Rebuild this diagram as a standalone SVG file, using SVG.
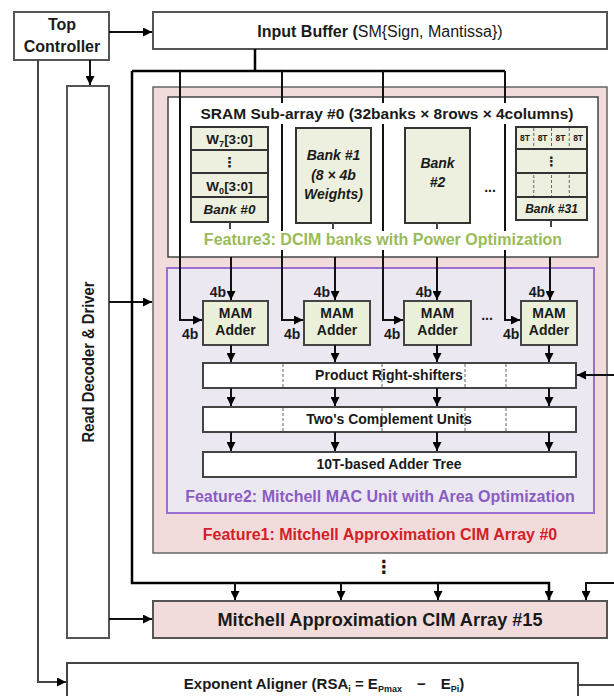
<svg xmlns="http://www.w3.org/2000/svg" width="614" height="696" viewBox="0 0 614 696">
<defs>
<marker id="ah" viewBox="0 0 10 10" refX="10" refY="5" markerWidth="9" markerHeight="9" markerUnits="userSpaceOnUse" orient="auto"><path d="M0,0 L10,5 L0,10 z" fill="#000"/></marker>
<style>
.t{font-family:"Liberation Sans","DejaVu Sans",sans-serif;font-weight:bold;fill:#1a1a1a;text-anchor:middle}
.n{font-weight:normal}
.it{font-style:italic}
.box{fill:#fff;stroke:#555;stroke-width:2}
.bank{fill:#edf0de;stroke:#333;stroke-width:2}
.mam{fill:#eaf0da;stroke:#444;stroke-width:2}
.ln{stroke:#111;stroke-width:2;fill:none}
.bus{stroke:#000;stroke-width:2.5;fill:none}
.dash{stroke:#666;stroke-width:1;stroke-dasharray:3,2}
</style>
</defs>
<rect width="614" height="696" fill="#fff"/>

<g id="top-controller">
<rect class="box" x="14" y="12" width="95" height="48"/>
<text class="t" x="62" y="30" font-size="16">Top</text>
<text class="t" x="62" y="52" font-size="16">Controller</text>
</g>

<g id="input-buffer">
<rect class="box" x="153" y="12" width="454" height="37"/>
<text class="t" x="380" y="37" font-size="16">Input Buffer (<tspan class="n">SM{Sign, Mantissa})</tspan></text>
</g>

<g id="read-decoder">
<rect class="box" x="67" y="86" width="42" height="552"/>
<text class="t" transform="translate(94,362) rotate(-90)" font-size="17" textLength="161" lengthAdjust="spacingAndGlyphs">Read Decoder &amp; Driver</text>
</g>

<g id="cim-array-0">
<rect x="153" y="87" width="454" height="466" fill="#f2dcdb" stroke="#666" stroke-width="1.5"/>
<text class="t" x="380" y="540" font-size="16" style="fill:#d32027">Feature1: Mitchell Approximation CIM Array #0</text>
</g>

<g id="sram-subarray">
<rect x="168" y="97" width="430" height="160" fill="#fff" stroke="#444" stroke-width="1.5"/>
</g>

<g id="mac-unit">
<rect x="167" y="268" width="427" height="245" fill="#ece8f2" stroke="#9b6fd0" stroke-width="2"/>
<text class="t" x="380" y="502" font-size="16" style="fill:#8a5cc2">Feature2: Mitchell MAC Unit with Area Optimization</text>
</g>

<g id="bank-0">
<rect class="bank" x="191" y="127" width="77" height="95"/>
<line x1="191" y1="150" x2="268" y2="150" stroke="#333" stroke-width="2"/>
<line x1="191" y1="173" x2="268" y2="173" stroke="#333" stroke-width="2"/>
<line x1="191" y1="197" x2="268" y2="197" stroke="#333" stroke-width="2"/>
<text class="t" x="229.5" y="144" font-size="13.5">W<tspan font-size="9" dy="3">7</tspan><tspan dy="-3">[3:0]</tspan></text>
<text class="t" x="229.5" y="167" font-size="14">⋮</text>
<text class="t" x="229.5" y="191" font-size="13.5">W<tspan font-size="9" dy="3">0</tspan><tspan dy="-3">[3:0]</tspan></text>
<text class="t it" x="229.5" y="214" font-size="13.5">Bank #0</text>
</g>

<g id="bank-1">
<rect class="bank" x="296" y="128" width="75" height="95"/>
<text class="t it" x="333.5" y="160" font-size="14">Bank #1</text>
<text class="t it" x="333.5" y="180" font-size="14">(8 × 4b</text>
<text class="t it" x="333.5" y="199" font-size="14">Weights)</text>
</g>

<g id="bank-2">
<rect class="bank" x="405" y="128" width="65" height="95"/>
<text class="t it" x="437.5" y="168" font-size="14">Bank</text>
<text class="t it" x="437.5" y="187" font-size="14">#2</text>
</g>

<text class="t" x="490" y="192" font-size="14">...</text>

<g id="bank-31">
<rect class="bank" x="516" y="127" width="71" height="93"/>
<line x1="516" y1="149" x2="587" y2="149" stroke="#333" stroke-width="2"/>
<line x1="516" y1="173" x2="587" y2="173" stroke="#333" stroke-width="2"/>
<line x1="516" y1="197" x2="587" y2="197" stroke="#333" stroke-width="2"/>
<line class="dash" x1="533.75" y1="128" x2="533.75" y2="148"/>
<line class="dash" x1="551.5" y1="128" x2="551.5" y2="148"/>
<line class="dash" x1="569.25" y1="128" x2="569.25" y2="148"/>
<line class="dash" x1="533.75" y1="175" x2="533.75" y2="196"/>
<line class="dash" x1="551.5" y1="175" x2="551.5" y2="196"/>
<line class="dash" x1="569.25" y1="175" x2="569.25" y2="196"/>
<text class="t" x="524.9" y="141" font-size="8.5">8T</text>
<text class="t" x="542.6" y="141" font-size="8.5">8T</text>
<text class="t" x="560.4" y="141" font-size="8.5">8T</text>
<text class="t" x="578.1" y="141" font-size="8.5">8T</text>
<text class="t" x="551.5" y="166" font-size="13">⋮</text>
<text class="t it" x="551.5" y="213" font-size="12">Bank #31</text>
</g>

<g id="mam-1">
<rect class="mam" x="203" y="301" width="65" height="44"/>
<text class="t" x="235.5" y="318" font-size="14">MAM</text>
<text class="t" x="235.5" y="335" font-size="14">Adder</text>
</g>
<g id="mam-2">
<rect class="mam" x="304" y="301" width="66" height="44"/>
<text class="t" x="337" y="318" font-size="14">MAM</text>
<text class="t" x="337" y="335" font-size="14">Adder</text>
</g>
<g id="mam-3">
<rect class="mam" x="404" y="301" width="67" height="44"/>
<text class="t" x="437.5" y="318" font-size="14">MAM</text>
<text class="t" x="437.5" y="335" font-size="14">Adder</text>
</g>
<g id="mam-4">
<rect class="mam" x="521" y="301" width="56" height="44"/>
<text class="t" x="549" y="318" font-size="14">MAM</text>
<text class="t" x="549" y="335" font-size="14">Adder</text>
</g>
<text class="t" x="487" y="320" font-size="14">...</text>

<g id="right-shifters">
<rect class="box" x="203" y="363" width="373" height="25" style="stroke:#444"/>
<line class="dash" x1="283" y1="364" x2="283" y2="387"/>
<line class="dash" x1="382" y1="364" x2="382" y2="387"/>
<line class="dash" x1="465" y1="364" x2="465" y2="387"/>
<line class="dash" x1="506" y1="364" x2="506" y2="387"/>
<text class="t" x="389" y="380" font-size="14">Product Right-shifters</text>
</g>

<g id="twos-complement">
<rect class="box" x="203" y="407" width="373" height="25" style="stroke:#444"/>
<line class="dash" x1="283" y1="408" x2="283" y2="431"/>
<line class="dash" x1="382" y1="408" x2="382" y2="431"/>
<line class="dash" x1="465" y1="408" x2="465" y2="431"/>
<line class="dash" x1="506" y1="408" x2="506" y2="431"/>
<text class="t" x="389" y="424" font-size="14">Two's Complement Units</text>
</g>

<g id="adder-tree">
<rect class="box" x="203" y="452" width="373" height="25" style="stroke:#444"/>
<text class="t" x="389" y="469" font-size="14">10T-based Adder Tree</text>
</g>

<g id="cim-array-15">
<rect x="153" y="601" width="454" height="37" fill="#f2dcdb" stroke="#555" stroke-width="2"/>
<text class="t" x="380" y="626" font-size="19" textLength="325" lengthAdjust="spacingAndGlyphs">Mitchell Approximation CIM Array #15</text>
</g>

<g id="exponent-aligner">
<rect class="box" x="67" y="663" width="511" height="40" style="stroke:#444"/>
<text class="t" x="324" y="689" font-size="15">Exponent Aligner (RSA<tspan font-size="9" dy="3">i</tspan><tspan dy="-3"> = E</tspan><tspan font-size="9" dy="3">Pmax</tspan><tspan dy="-3">&#8194;&#8194;−&#8194;&#8194;E</tspan><tspan font-size="9" dy="3">Pi</tspan><tspan dy="-3">)</tspan></text>
</g>

<g id="connectors">
<path class="ln" d="M109,32 H152" marker-end="url(#ah)"/>
<path class="ln" d="M90,60 V85" marker-end="url(#ah)"/>
<path class="ln" d="M38,60 V682 H66" marker-end="url(#ah)" style="stroke:#444"/>
<path class="ln" d="M109,302 H152" marker-end="url(#ah)"/>
<path class="ln" d="M109,619 H152" marker-end="url(#ah)"/>
<path class="bus" d="M255,49 V71"/>
<path class="bus" d="M132,71 H505"/>
<path class="bus" d="M132,71 V583 H549 V600" marker-end="url(#ah)"/>
<path class="ln" d="M235,583 V600" marker-end="url(#ah)"/>
<path class="ln" d="M341,583 V600" marker-end="url(#ah)"/>
<path class="ln" d="M438,583 V600" marker-end="url(#ah)"/>
<path class="ln" d="M614,583 H586 V600" marker-end="url(#ah)"/>
<path class="ln" d="M180,71 V320 H202" marker-end="url(#ah)"/>
<path class="ln" d="M282,71 V320 H303" marker-end="url(#ah)"/>
<path class="ln" d="M383,71 V320 H403" marker-end="url(#ah)"/>
<path class="ln" d="M505,71 V320 H520" marker-end="url(#ah)"/>
<path class="ln" d="M230,222 V229 M333,223 V229 M437,223 V229 M551,220 V227" style="stroke:#444"/>
<path class="ln" d="M231,257 V300" marker-end="url(#ah)"/>
<path class="ln" d="M335,257 V300" marker-end="url(#ah)"/>
<path class="ln" d="M437,257 V300" marker-end="url(#ah)"/>
<path class="ln" d="M550,257 V300" marker-end="url(#ah)"/>
<path class="ln" d="M231,345 V362" marker-end="url(#ah)"/>
<path class="ln" d="M335,345 V362" marker-end="url(#ah)"/>
<path class="ln" d="M437,345 V362" marker-end="url(#ah)"/>
<path class="ln" d="M549,345 V362" marker-end="url(#ah)"/>
<path class="ln" d="M231,388 V406" marker-end="url(#ah)"/>
<path class="ln" d="M335,388 V406" marker-end="url(#ah)"/>
<path class="ln" d="M437,388 V406" marker-end="url(#ah)"/>
<path class="ln" d="M549,388 V406" marker-end="url(#ah)"/>
<path class="ln" d="M231,432 V451" marker-end="url(#ah)"/>
<path class="ln" d="M335,432 V451" marker-end="url(#ah)"/>
<path class="ln" d="M437,432 V451" marker-end="url(#ah)"/>
<path class="ln" d="M549,432 V451" marker-end="url(#ah)"/>
<path class="ln" d="M614,375 H577" marker-end="url(#ah)"/>
<path class="ln" d="M578,685 H614" style="stroke:#444"/>
</g>

<g id="labels">
<rect x="190" y="103" width="396" height="21" fill="#fff"/>
<text class="t" x="387" y="119" font-size="15.5">SRAM Sub-array #0 (32banks × 8rows × 4columns)</text>
<rect x="198" y="231" width="370" height="19" fill="#fff"/>
<text class="t" x="383" y="245" font-size="16" style="fill:#9bbb59">Feature3: DCIM banks with Power Optimization</text>
<text class="t" x="226" y="297" font-size="14" style="text-anchor:end">4b</text>
<text class="t" x="330" y="297" font-size="14" style="text-anchor:end">4b</text>
<text class="t" x="432" y="297" font-size="14" style="text-anchor:end">4b</text>
<text class="t" x="545" y="297" font-size="14" style="text-anchor:end">4b</text>
<text class="t" x="182" y="339" font-size="14" style="text-anchor:start">4b</text>
<text class="t" x="284" y="339" font-size="14" style="text-anchor:start">4b</text>
<text class="t" x="384" y="339" font-size="14" style="text-anchor:start">4b</text>
<text class="t" x="503" y="339" font-size="14" style="text-anchor:start">4b</text>
<text class="t" x="384" y="573" font-size="18">⋮</text>
</g>
</svg>
